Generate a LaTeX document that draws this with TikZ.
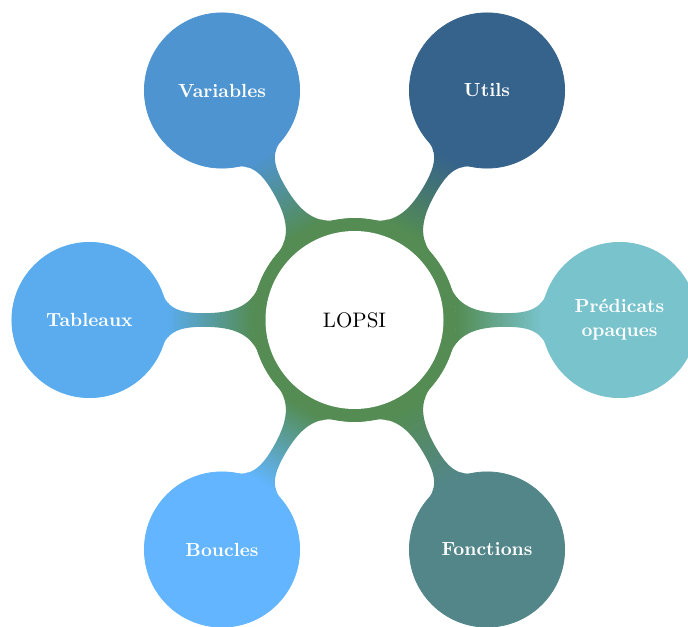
\documentclass[tikz,border=0pt]{standalone}
\usetikzlibrary{mindmap}
\definecolor{cgreen}{HTML}{548C53}
\definecolor{cvar}{HTML}{4E94D0}
\definecolor{cutil}{HTML}{36638B}
\definecolor{cpred}{HTML}{79C3CC}
\definecolor{cfonc}{HTML}{538689}
\definecolor{cbouc}{HTML}{62B5FE}
\definecolor{ctab}{HTML}{5AACEE}
\begin{document}
\begin{tikzpicture}[x=0.5pt,y=0.5pt]
\useasboundingbox (-354.5,-306) rectangle (333.5,320);
\path[mindmap, concept color=cgreen,
  sat/.style={concept, line width=0.4pt, minimum size=77.6pt, text width=54pt, inner sep=0pt, align=center, text=white, font=\fontsize{9.5}{12}\selectfont\bfseries},
  level 1/.append style={level distance=132.5pt}]
  node[concept, line width=0.4pt, minimum size=101.6pt, text width=60pt, inner sep=0pt] (root) {}
  child[grow=120, concept color=cvar] {node[sat] (var) {Variables}}
  child[grow=60, concept color=cutil] {node[sat] (util) {Utils}}
  child[grow=0, concept color=cpred] {node[sat] (pred) {Prédicats\\opaques} edge from parent[line width=12pt]}
  child[grow=-60, concept color=cfonc] {node[sat] (fonc) {Fonctions}}
  child[grow=-120, concept color=cbouc] {node[sat] (bouc) {Boucles}}
  child[grow=180, concept color=ctab] {node[sat] (tab) {Tableaux} edge from parent[line width=2pt]};
\node[circle, fill=white, minimum size=89pt, inner sep=0pt, font=\fontsize{10.5}{12}\selectfont] (lopsi) at (root) {LOPSI};
\end{tikzpicture}
\end{document}
